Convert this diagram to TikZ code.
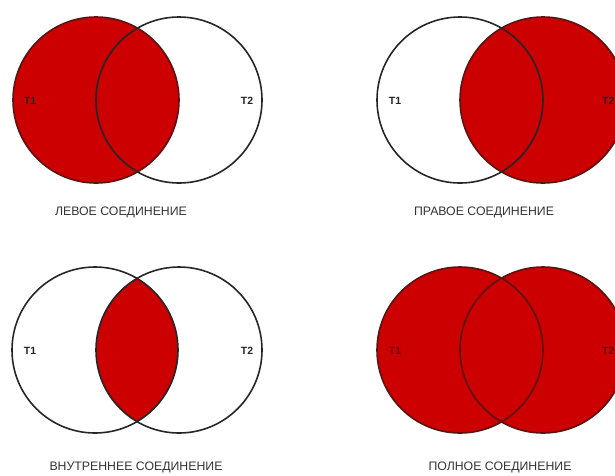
\documentclass[tikz,border=0pt]{standalone}
\usepackage{fontspec}
\setmainfont{Liberation Sans}
\definecolor{jred}{HTML}{CC0000}
\definecolor{jedge}{HTML}{5A1414}
\definecolor{jtext}{HTML}{333333}
\begin{document}
\begin{tikzpicture}[x=1pt,y=-1pt,
  venn/.style={circle,minimum size=166pt,inner sep=0pt,line width=1.6pt},
  openset/.style={venn,draw=black!85},
  fullset/.style={venn,fill=jred,draw=jedge},
  setlabel/.style={font=\fontsize{10.5}{12}\selectfont\bfseries,text=black!85,inner sep=0pt},
  caption/.style={font=\fontsize{12.3}{14}\selectfont,text=jtext}]
\useasboundingbox (0,0) rectangle (615,475);
% ---- left join
\node[fullset] (l1) at (96,100) {};
\node[openset] (l2) at (179,100) {};
\node[setlabel] (l1t) at (30,101) {T1};
\node[setlabel] (l2t) at (247,101) {T2};
\node[caption] (lcap) at (121,212) {ЛЕВОЕ СОЕДИНЕНИЕ};
% ---- right join
\node[fullset] (r2) at (543,100) {};
\node[openset] (r1) at (460,100) {};
\node[setlabel] (r1t) at (395,101) {T1};
\node[setlabel,anchor=west] (r2t) at (602,101) {T2};
\node[caption] (rcap) at (484,212) {ПРАВОЕ СОЕДИНЕНИЕ};
% ---- inner join
\begin{scope}
  \clip (95,350) circle (83);
  \fill[jred] (179,350) circle (83);
\end{scope}
\node[openset] (i1) at (95,350) {};
\node[openset] (i2) at (179,350) {};
\node[setlabel] (i1t) at (30,351) {T1};
\node[setlabel] (i2t) at (247,351) {T2};
\node[caption] (icap) at (136,467) {ВНУТРЕННЕЕ СОЕДИНЕНИЕ};
% ---- full join
\node[venn,fill=jred] (f1) at (460,350) {};
\node[venn,fill=jred] (f2) at (543,350) {};
\node[venn,draw=jedge] (f1o) at (460,350) {};
\node[venn,draw=jedge] (f2o) at (543,350) {};
\node[setlabel,text=jedge] (f1t) at (395,351) {T1};
\node[setlabel,text=jedge,anchor=west] (f2t) at (602,351) {T2};
\node[caption] (fcap) at (500,467) {ПОЛНОЕ СОЕДИНЕНИЕ};
\end{tikzpicture}
\end{document}
